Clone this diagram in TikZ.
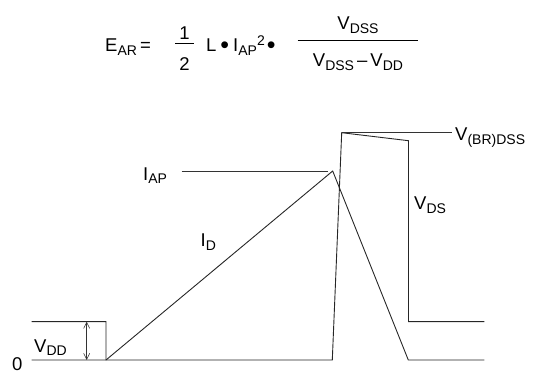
\documentclass[tikz,border=0pt]{standalone}
\usepackage{fontspec}
\setmainfont{Liberation Sans}
\usetikzlibrary{arrows.meta}
\newcommand{\lowsub}[1]{\raisebox{-3.5pt}{\fontsize{14}{14}\selectfont #1}}
\newcommand{\highsup}[1]{\raisebox{6.5pt}{\fontsize{14}{14}\selectfont #1}}
\newcommand{\bigdot}{\raisebox{-2.2pt}{\scalebox{1.35}{\textbullet}}}
\tikzset{
  wave/.style={line width=0.9pt, draw=black!85, line join=miter},
  lbl/.style={inner sep=0pt, anchor=base west, font=\fontsize{18.5}{18.5}\selectfont},
  dim/.style={line width=0.6pt, draw=black!80, {Straight Barb[length=6pt,width=6pt]}-{Straight Barb[length=6pt,width=6pt]}}
}
\begin{document}
\begin{tikzpicture}[x=1pt,y=-1pt]
\useasboundingbox (0,0) rectangle (547,374);
% formula
\node[lbl] (ear) at (105,51.7) {E\lowsub{AR}\,=};
\node[lbl, anchor=base] (one) at (184.5,39.3) {1};
\node[lbl, anchor=base] (two) at (184.5,71) {2};
\draw[line width=0.6pt] (175,43.3) -- (194.3,43.3);
\node[lbl] (lterm) at (206,51.7) {L\hspace{4pt}\bigdot\hspace{4pt}I\lowsub{AP}\highsup{2}\hspace{2pt}\bigdot};
\node[lbl, anchor=base] (num) at (358,30) {V\lowsub{DSS}};
\node[lbl, anchor=base] (den) at (358,66.7) {V\lowsub{DSS}\,–\,V\lowsub{DD}};
\draw[line width=0.6pt] (297.7,40.7) -- (418,40.7);
% waveforms
\coordinate (a0) at (31.7,321.7);
\coordinate (a1) at (106,321.7);
\coordinate (a2) at (106,360);
\coordinate (a3) at (332.3,360);
\coordinate (a4) at (341.7,132.7);
\coordinate (a5) at (408.5,140.7);
\coordinate (a6) at (408.5,321.7);
\coordinate (a7) at (484.3,321.7);
\coordinate (b0) at (31.7,360);
\coordinate (pk) at (332.7,171);
\coordinate (b2) at (408.3,360);
\coordinate (b3) at (484.3,360);
\draw[wave] (a0) -- (a1) -- (a2) -- (a3) -- (a4) -- (a5) -- (a6) -- (a7);
\draw[wave] (b0) -- (a2) -- (pk) -- (b2) -- (b3);
% reference lines
\coordinate (iapl) at (181.7,171);
\coordinate (iapr) at (328.3,171);
\draw[line width=0.6pt, draw=black!80] (iapl) -- (iapr);
\coordinate (brl) at (341.7,132.7);
\coordinate (brr) at (451.7,132.7);
\draw[line width=0.6pt, draw=black!80] (brl) -- (brr);
% VDD dimension
\coordinate (vt) at (86.7,321.7);
\coordinate (vb) at (86.7,360);
\draw[dim] (vt) -- (vb);
% labels
\node[lbl] (liap) at (143,180.5) {I\lowsub{AP}};
\node[lbl] (lid) at (200.5,247) {I\lowsub{D}};
\node[lbl] (lvds) at (414,210) {V\lowsub{DS}};
\node[lbl] (lbr) at (455,141) {V\lowsub{(BR)DSS}};
\node[lbl] (lvdd) at (34,352.5) {V\lowsub{DD}};
\node[lbl] (lzero) at (12,371) {0};
\end{tikzpicture}
\end{document}
